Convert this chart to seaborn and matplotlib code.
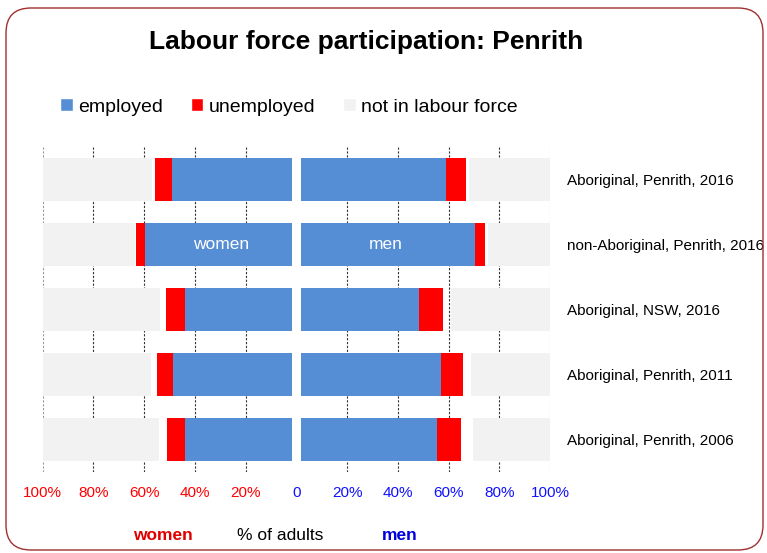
import matplotlib
matplotlib.use("Agg")
import matplotlib.pyplot as plt
from matplotlib.patches import FancyBboxPatch, Patch
import seaborn as sns

# data (% of adults)
categories = [
    "Aboriginal, Penrith, 2016",
    "non-Aboriginal, Penrith, 2016",
    "Aboriginal, NSW, 2016",
    "Aboriginal, Penrith, 2011",
    "Aboriginal, Penrith, 2006",
]
women_employed = [49.2, 59.7, 44.1, 48.8, 44.1]
women_unemployed = [6.7, 3.7, 7.3, 6.2, 7.1]
women_not_in_lf = [43.2, 36.3, 46.1, 42.5, 45.8]
men_employed = [59.0, 70.5, 48.2, 56.9, 55.3]
men_unemployed = [7.7, 3.8, 9.5, 8.8, 9.4]
men_not_in_lf = [32.0, 24.5, 39.1, 31.2, 30.5]

tick_values = [-100, -80, -60, -40, -20, 0, 20, 40, 60, 80, 100]
tick_labels = ["100%", "80%", "60%", "40%", "20%", "0", "20%", "40%", "60%", "80%", "100%"]

BLUE = "#558ED5"
RED = "#FF0000"
GREY = "#F2F2F2"
CENTRE_GAP = 1.8

sns.set_style("white")
plt.rcParams["font.family"] = ["Liberation Sans", "DejaVu Sans"]
plt.rcParams["text.color"] = "black"
plt.rcParams["xtick.color"] = "black"
plt.rcParams["ytick.color"] = "black"

fig = plt.figure(figsize=(7.67, 5.53), dpi=100)
ax = fig.add_axes([0.0557, 0.1465, 0.6616, 0.5877])


def seg(values, left, color):
    sns.barplot(x=values, y=categories, order=categories, orient="h",
                left=left, color=color, saturation=1, width=0.667,
                errorbar=None, linewidth=0, zorder=2, ax=ax)


# women go to the left, men to the right
seg([-v for v in women_employed], 0, BLUE)
seg([-v for v in women_unemployed], [-v for v in women_employed], RED)
seg(women_not_in_lf, -100, GREY)
seg(men_employed, 0, BLUE)
seg(men_unemployed, men_employed, RED)
seg([-v for v in men_not_in_lf], 100, GREY)

# white separator between the two halves
ax.axvspan(-CENTRE_GAP, CENTRE_GAP, color="white", zorder=3, linewidth=0)

ax.text(-women_employed[1] / 2, 1, "women", color="white", ha="center",
        va="center", fontsize=12.5, zorder=4)
ax.text(men_employed[1] / 2, 1, "men", color="white", ha="center",
        va="center", fontsize=12.5, zorder=4)

ax.set_xlim(-100, 100)
ax.set_ylim(4.5, -0.5)
ax.set_xticks(tick_values)
ax.set_xticklabels(tick_labels)
for v, lab in zip(tick_values, ax.get_xticklabels()):
    lab.set_color("#FF0000" if v < 0 else "#1010FF")
ax.tick_params(axis="x", length=0, pad=10, labelsize=11)
ax.yaxis.tick_right()
ax.tick_params(axis="y", length=0, pad=12, labelsize=11, labelcolor="black")
ax.set_xlabel("")
ax.set_ylabel("")
for s in ax.spines.values():
    s.set_visible(False)

ax.set_axisbelow(True)
ax.grid(axis="x", color="#333333", linestyle=(0, (2, 1.5)), linewidth=0.8)
ax.grid(axis="y", visible=False)
gl = ax.xaxis.get_gridlines()
gl[0].set_color("#999999")
gl[-1].set_color("#999999")

# title, legend, bottom captions
fig.text(366 / 767, 1 - 42 / 553, "Labour force participation: Penrith",
         ha="center", va="center", fontsize=19, fontweight="bold",
         color="black")

handles = [Patch(facecolor=BLUE), Patch(facecolor=RED), Patch(facecolor=GREY)]
leg = fig.legend(handles, ["employed", "unemployed", "not in labour force"],
                 loc="center left", bbox_to_anchor=(60 / 767, 1 - 107 / 553),
                 ncol=3, frameon=False, fontsize=14, handlelength=0.65,
                 handleheight=0.65, handletextpad=0.3, columnspacing=1.4,
                 borderpad=0, borderaxespad=0)
for t in leg.get_texts():
    t.set_color("black")

fig.text(163 / 767, 1 - 536 / 553, "women", color="#E00000", fontsize=12.5,
         fontweight="bold", ha="center", va="center")
fig.text(280 / 767, 1 - 536 / 553, "% of adults", color="black", fontsize=12.5,
         ha="center", va="center")
fig.text(400 / 767, 1 - 536 / 553, "men", color="#0000E0", fontsize=12.5,
         fontweight="bold", ha="center", va="center")

# rounded chart border
fig.patches.append(FancyBboxPatch((0.06, 0.03), 7.57, 5.42,
                                  boxstyle="round,pad=0,rounding_size=0.25",
                                  transform=fig.dpi_scale_trans,
                                  facecolor="none", edgecolor="#A03030",
                                  linewidth=1))

fig.savefig("out.png", dpi=100)
